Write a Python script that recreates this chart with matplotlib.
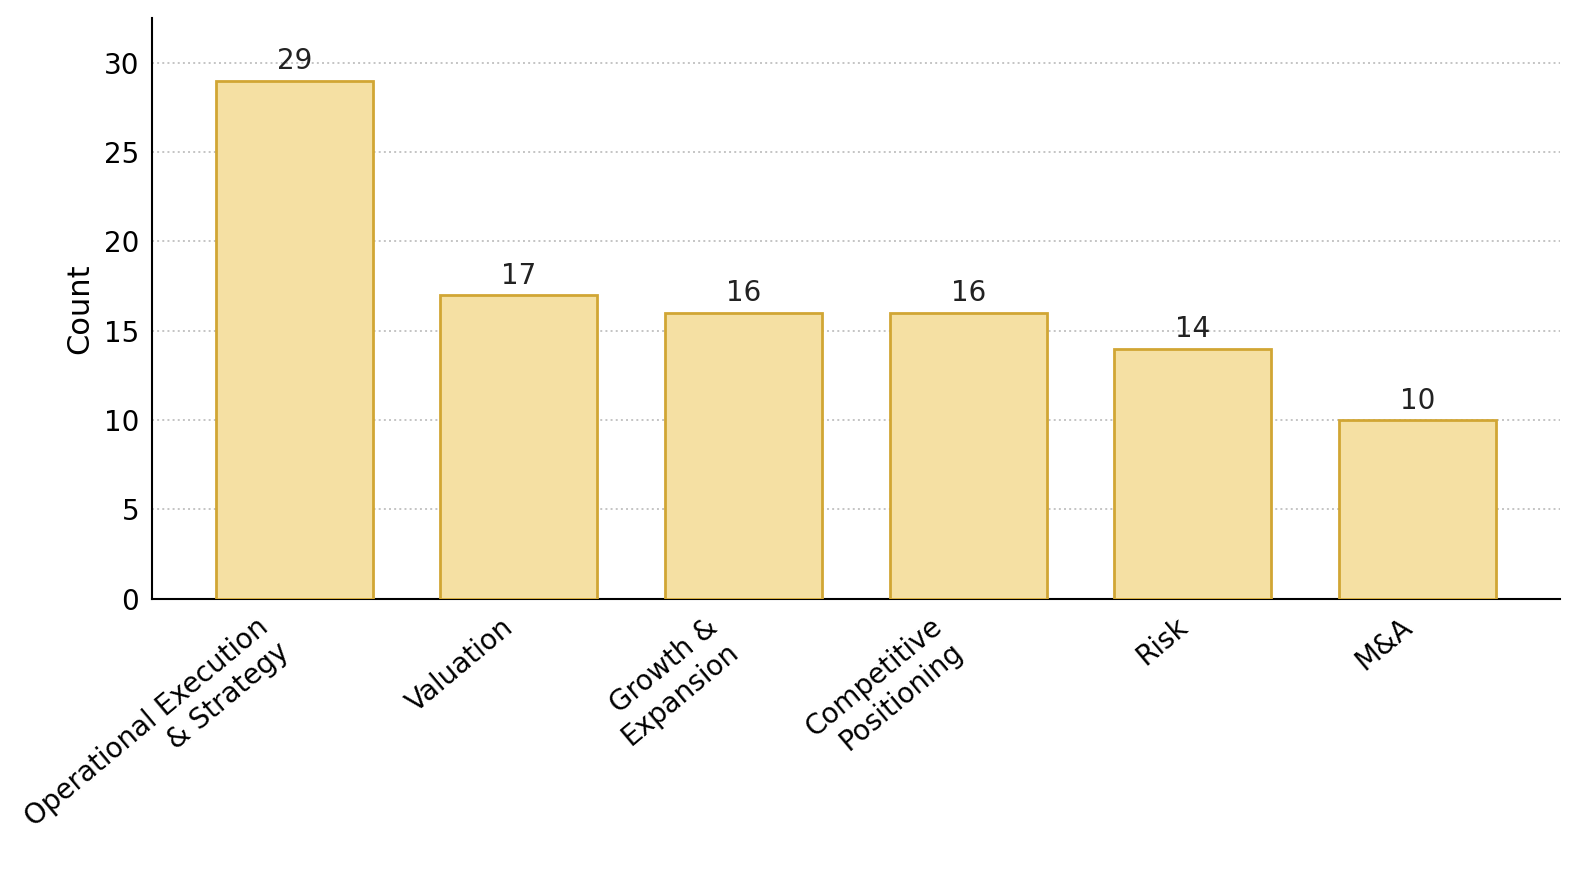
import matplotlib
matplotlib.use("Agg")
import matplotlib.pyplot as plt

categories = ["Operational Execution\n& Strategy", "Valuation", "Growth &\nExpansion",
              "Competitive\nPositioning", "Risk", "M&A"]
counts = [29, 17, 16, 16, 14, 10]

plt.rcParams['font.family'] = ['DejaVu Sans']
fig, ax = plt.subplots(figsize=(15.79, 8.74), dpi=100)
fig.subplots_adjust(left=0.096, right=0.988, top=0.979, bottom=0.315)

x = list(range(len(categories)))
bars = ax.bar(x, counts, width=0.7, color="#F5E0A3", edgecolor="#D1A634", linewidth=2, zorder=3)
for xi, v in zip(x, counts):
    ax.text(xi, v + 0.3, str(v), ha="center", va="bottom", fontsize=20, color="#222222", zorder=4)

ax.set_ylim(0, max(counts) * 1.12)
ax.set_xticks(x)
ax.set_xticklabels(categories, rotation=40, ha="right", fontsize=20)
ax.tick_params(axis="y", labelsize=20, length=0, pad=9)
ax.tick_params(axis="x", length=0, pad=10)
ax.set_ylabel("Count", fontsize=22, labelpad=7)
ax.yaxis.grid(True, linestyle=":", color="#c4c4c4", linewidth=1.4, zorder=0)
ax.set_axisbelow(True)
for s in ["top", "right"]:
    ax.spines[s].set_visible(False)
ax.spines["left"].set_linewidth(1.5)
ax.spines["bottom"].set_linewidth(1.5)

fig.savefig("out.png", dpi=100)
